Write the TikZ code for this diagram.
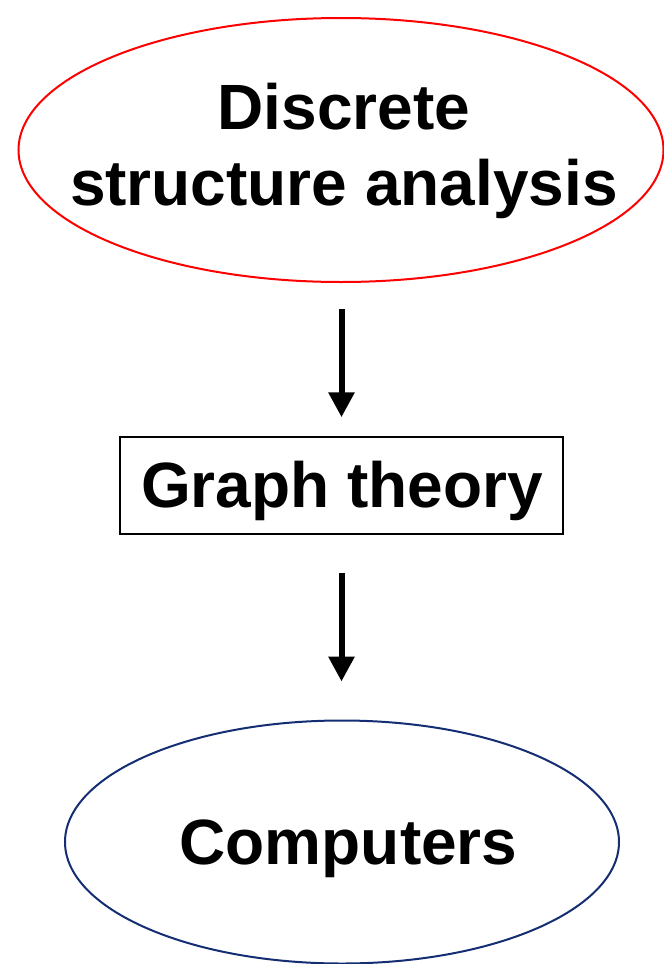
\documentclass[tikz,border=0pt]{standalone}
\usepackage{fontspec}
\setmainfont{Liberation Sans}
\usetikzlibrary{arrows.meta,shapes.geometric}
\definecolor{navyline}{RGB}{20,45,115}
\tikzset{
  bigtext/.style={font=\bfseries\fontsize{64}{76}\selectfont, inner sep=0pt, align=center},
  flowarrow/.style={line width=6pt, -{Triangle[width=25pt,length=25pt]}},
}
\begin{document}
\begin{tikzpicture}[x=1pt,y=-1pt]
\useasboundingbox (0,0) rectangle (664,964);
\node[draw=red, line width=2pt, ellipse, minimum width=645pt, minimum height=264pt, inner sep=0pt] (top) at (341,150) {};
\node[bigtext] (toptext) at (344,150.5) {Discrete\\structure analysis};
\node[draw=black, line width=1.5pt, minimum width=443pt, minimum height=97pt, inner sep=0pt] (box) at (341.5,485.5) {};
\node[bigtext] (boxtext) at (342,491) {Graph theory};
\node[draw=navyline, line width=2pt, ellipse, minimum width=554pt, minimum height=243pt, inner sep=0pt] (bot) at (342,842) {};
\node[bigtext] (bottext) at (348.5,849) {Computers};
\draw[flowarrow, shorten <=26pt, shorten >=19pt] (top.south -| box.north) -- (box.north);
\draw[flowarrow, shorten <=38pt, shorten >=38pt] (box.south) -- (box.south |- bot.north);
\end{tikzpicture}
\end{document}
